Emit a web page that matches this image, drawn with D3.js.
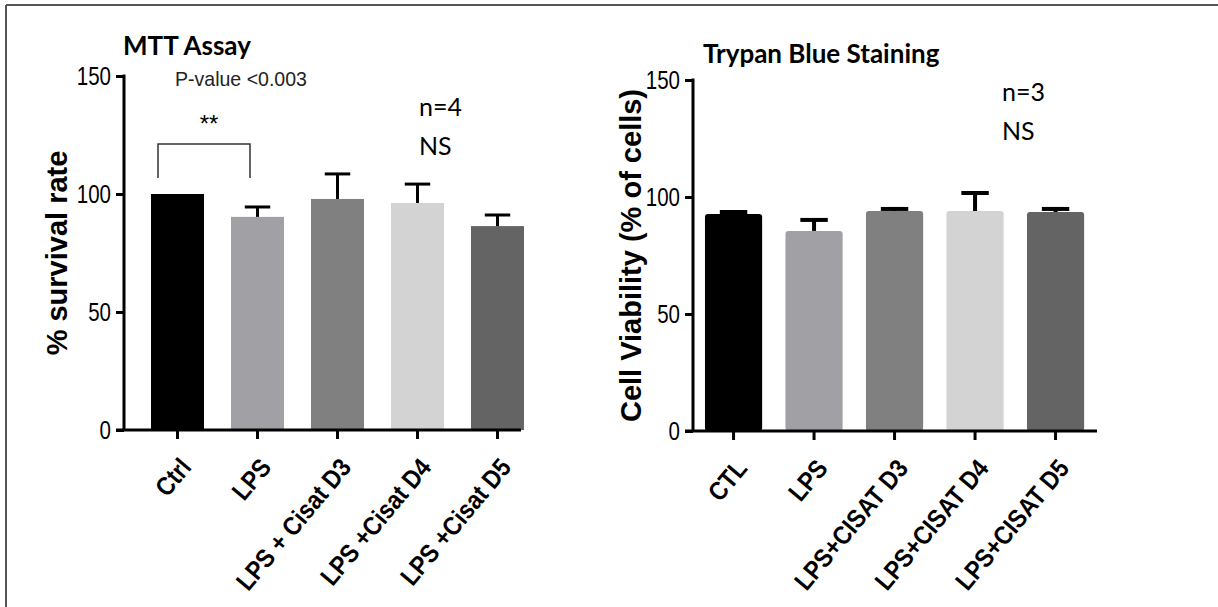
<!DOCTYPE html>
<html>
<head>
<meta charset="utf-8">
<script src="https://cdn.jsdelivr.net/npm/d3@7"></script>
<style>
  body { margin: 0; background: #fff; }
  svg { display: block; }
</style>
</head>
<body>
<div id="chart"></div>
<script>
// MTT assay (left panel)
var mttCategories = ["Ctrl", "LPS", "LPS + Cisat D3", "LPS +Cisat D4", "LPS +Cisat D5"];
var mttMeans = [100, 90.3, 97.9, 96.2, 86.4];
var mttSem = [0, 4.2, 10.6, 8.0, 4.7];

// Trypan blue staining (right panel)
var trypanCategories = ["CTL", "LPS", "LPS+CISAT D3", "LPS+CISAT D4", "LPS+CISAT D5"];
var trypanMeans = [92.7, 85.5, 94.0, 94.0, 93.6];
var trypanSem = [0.9, 4.7, 0.9, 7.7, 1.3];

var yTicks = [0, 50, 100, 150];
var barColors = ["#000000", "#a1a1a5", "#808080", "#d3d3d3", "#646464"];

var width = 1218, height = 607;

var svg = d3.select("#chart").append("svg")
    .attr("width", width)
    .attr("height", height);

// frame of the figure
svg.append("line").attr("x1", 6).attr("x2", 6).attr("y1", 5).attr("y2", height)
    .attr("stroke", "#555").attr("stroke-width", 2);
svg.append("line").attr("x1", 6).attr("x2", width).attr("y1", 5).attr("y2", 5)
    .attr("stroke", "#555").attr("stroke-width", 2);

var sansFont = "'Liberation Sans', Arial, sans-serif";
var noteFont = "Lato, 'Open Sans', sans-serif";

// squeeze text horizontally, the original uses a condensed face
function condense(sel, k) {
    sel.each(function () {
        var w = this.getComputedTextLength();
        d3.select(this)
            .attr("textLength", w * k)
            .attr("lengthAdjust", "spacingAndGlyphs");
    });
}

function drawPanel(p) {
    var g = svg.append("g");

    var x = d3.scaleBand()
        .domain(p.categories)
        .range(p.xRange)
        .paddingInner(p.padInner)
        .paddingOuter(p.padInner / 2);

    var y = d3.scaleLinear()
        .domain([0, 150])
        .range(p.yRange);

    var data = p.categories.map(function (c, i) {
        return { name: c, mean: p.means[i], sem: p.sem[i], color: barColors[i] };
    });

    // bars
    g.selectAll("rect.bar")
        .data(data)
        .enter().append("rect")
        .attr("class", "bar")
        .attr("x", function (d) { return x(d.name); })
        .attr("y", function (d) { return y(d.mean); })
        .attr("width", x.bandwidth())
        .attr("height", function (d) { return y(0) - y(d.mean); })
        .attr("rx", p.round)
        .attr("fill", function (d) { return d.color; });

    // error bars (upper only)
    var capW = x.bandwidth() * 0.48;
    var err = g.selectAll("g.err")
        .data(data.filter(function (d) { return d.sem > 0; }))
        .enter().append("g")
        .attr("class", "err")
        .attr("stroke", "#000")
        .attr("stroke-width", p.errWidth);
    err.append("line")
        .attr("x1", function (d) { return x(d.name) + x.bandwidth() / 2; })
        .attr("x2", function (d) { return x(d.name) + x.bandwidth() / 2; })
        .attr("y1", function (d) { return y(d.mean); })
        .attr("y2", function (d) { return y(d.mean + d.sem); });
    err.append("line")
        .attr("x1", function (d) { return x(d.name) + x.bandwidth() / 2 - capW / 2; })
        .attr("x2", function (d) { return x(d.name) + x.bandwidth() / 2 + capW / 2; })
        .attr("y1", function (d) { return y(d.mean + d.sem); })
        .attr("y2", function (d) { return y(d.mean + d.sem); });

    // y axis
    var yAxis = g.append("g")
        .attr("transform", "translate(" + p.axisX + ",0)")
        .call(d3.axisLeft(y).tickValues(yTicks).tickSize(8).tickPadding(5));
    yAxis.select(".domain").remove();
    yAxis.selectAll(".tick line").attr("stroke", "#000").attr("stroke-width", 3);
    yAxis.selectAll(".tick text")
        .attr("fill", "#000")
        .style("font-family", sansFont)
        .style("font-size", "25px")
        .call(condense, 0.82);
    g.append("line")
        .attr("x1", p.axisX).attr("x2", p.axisX)
        .attr("y1", y(150) - 1.5).attr("y2", y(0))
        .attr("stroke", "#000").attr("stroke-width", 3);

    // x axis
    g.append("line")
        .attr("x1", p.axisX - 8).attr("x2", p.axisEnd)
        .attr("y1", y(0)).attr("y2", y(0))
        .attr("stroke", "#000").attr("stroke-width", 3);
    g.selectAll("line.xtick")
        .data(p.categories)
        .enter().append("line")
        .attr("class", "xtick")
        .attr("x1", function (d) { return x(d) + x.bandwidth() / 2; })
        .attr("x2", function (d) { return x(d) + x.bandwidth() / 2; })
        .attr("y1", y(0)).attr("y2", y(0) + 9)
        .attr("stroke", "#000").attr("stroke-width", 3);
    g.selectAll("text.xlabel")
        .data(p.categories)
        .enter().append("text")
        .attr("class", "xlabel")
        .attr("transform", function (d) {
            return "translate(" + (x(d) + x.bandwidth() / 2 + 15) + "," + (y(0) + 38) + ") rotate(-50)";
        })
        .attr("text-anchor", "end")
        .style("font-family", sansFont)
        .style("font-weight", "bold")
        .style("font-size", "26px")
        .text(function (d) { return d; })
        .call(condense, 0.88);

    // y axis title
    g.append("text")
        .attr("transform", "translate(" + p.yTitleX + "," + ((y(0) + y(150)) / 2) + ") rotate(-90)")
        .attr("text-anchor", "middle")
        .style("font-family", sansFont)
        .style("font-weight", "bold")
        .style("font-size", "29px")
        .text(p.yTitle);

    // panel title
    g.append("text")
        .attr("x", p.titleX).attr("y", p.titleY)
        .style("font-family", noteFont)
        .style("font-weight", "bold")
        .style("font-size", "26px")
        .text(p.title);

    // n and NS notes
    g.append("text")
        .attr("x", p.noteX).attr("y", p.noteY)
        .style("font-family", noteFont)
        .style("font-size", "25px")
        .text(p.nText);
    g.append("text")
        .attr("x", p.noteX).attr("y", p.noteY + 39)
        .style("font-family", noteFont)
        .style("font-size", "25px")
        .text("NS");

    return { g: g, x: x, y: y };
}

var left = drawPanel({
    categories: mttCategories, means: mttMeans, sem: mttSem,
    xRange: [137.5, 537.5], padInner: 0.3375, yRange: [430, 76],
    axisX: 124, axisEnd: 521, round: 0, errWidth: 3,
    yTitle: "% survival rate", yTitleX: 67,
    title: "MTT Assay", titleX: 123, titleY: 55,
    nText: "n=4", noteX: 419, noteY: 116
});

var right = drawPanel({
    categories: trypanCategories, means: trypanMeans, sem: trypanSem,
    xRange: [693.3, 1095.8], padInner: 0.29, yRange: [431, 80],
    axisX: 693, axisEnd: 1097, round: 3, errWidth: 4,
    yTitle: "Cell Viability (% of cells)", yTitleX: 641,
    title: "Trypan Blue Staining", titleX: 703, titleY: 63,
    nText: "n=3", noteX: 1002, noteY: 101
});

// significance bracket Ctrl vs LPS
var lx = left.x;
var bx1 = lx("Ctrl") + 7, bx2 = lx("LPS") + 19;
left.g.append("path")
    .attr("d", "M" + bx1 + "," + 178 + "V" + 144 + "H" + bx2 + "V" + 178)
    .attr("fill", "none")
    .attr("stroke", "#333")
    .attr("stroke-width", 1.5);
left.g.append("text")
    .attr("x", (bx1 + bx2) / 2 + 5).attr("y", 132)
    .attr("text-anchor", "middle")
    .style("font-family", sansFont)
    .style("font-size", "24px")
    .text("**");
left.g.append("text")
    .attr("x", 175).attr("y", 86)
    .style("font-family", sansFont)
    .style("font-size", "21px")
    .attr("fill", "#222")
    .text("P-value <0.003")
    .call(condense, 0.93);
</script>
</body>
</html>
